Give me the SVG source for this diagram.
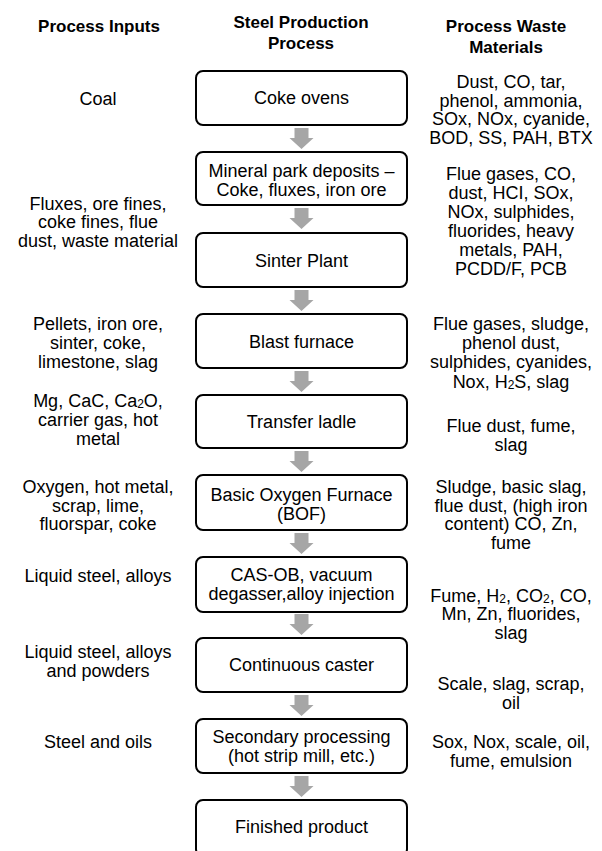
<svg xmlns="http://www.w3.org/2000/svg" width="602" height="851" viewBox="0 0 602 851">
<style>
  .t{font-family:"Liberation Sans",Arial,sans-serif;font-size:18px;fill:#000;text-anchor:middle}
  .h{font-family:"Liberation Sans",Arial,sans-serif;font-size:17px;font-weight:bold;fill:#000;text-anchor:middle}
  .box{fill:#fff;stroke:#000;stroke-width:2}
  .arr{fill:#a6a6a6}
  .sub{font-size:12px}
</style>
<defs>
  <path id="arrow" d="M-7,0 H7 V10 H12 L0,21 L-12,10 H-7 Z"/>
</defs>
<rect width="602" height="851" fill="#fff"/>
<g id="headers">
  <text class="h" x="99" y="32">Process Inputs</text>
  <text class="h" x="301" y="28">Steel Production</text>
  <text class="h" x="301" y="49">Process</text>
  <text class="h" x="506" y="32">Process Waste</text>
  <text class="h" x="506" y="53">Materials</text>
</g>
<g id="connectors" class="arr">
  <use href="#arrow" x="301.5" y="128"/>
  <use href="#arrow" x="301.5" y="208"/>
  <use href="#arrow" x="301.5" y="290"/>
  <use href="#arrow" x="301.5" y="371"/>
  <use href="#arrow" x="301.5" y="451"/>
  <use href="#arrow" x="301.5" y="533"/>
  <use href="#arrow" x="301.5" y="614"/>
  <use href="#arrow" x="301.5" y="695"/>
  <use href="#arrow" x="301.5" y="776"/>
</g>
<g id="n1"><rect class="box" x="196" y="71" width="211" height="54" rx="7"/><text class="t" x="301.5" y="104">Coke ovens</text></g>
<g id="n2"><rect class="box" x="196" y="152" width="211" height="53" rx="7"/><text class="t" x="301.5" y="177">Mineral park deposits –</text><text class="t" x="301.5" y="196">Coke, fluxes, iron ore</text></g>
<g id="n3"><rect class="box" x="196" y="233" width="211" height="54" rx="7"/><text class="t" x="301.5" y="266.5">Sinter Plant</text></g>
<g id="n4"><rect class="box" x="196" y="314" width="211" height="54" rx="7"/><text class="t" x="301.5" y="347.5">Blast furnace</text></g>
<g id="n5"><rect class="box" x="196" y="395" width="211" height="53" rx="7"/><text class="t" x="301.5" y="428">Transfer ladle</text></g>
<g id="n6"><rect class="box" x="196" y="475" width="211" height="55" rx="7"/><text class="t" x="301.5" y="501">Basic Oxygen Furnace</text><text class="t" x="301.5" y="520">(BOF)</text></g>
<g id="n7"><rect class="box" x="196" y="557" width="211" height="55" rx="7"/><text class="t" x="301.5" y="581">CAS-OB, vacuum</text><text class="t" x="301.5" y="600">degasser,alloy injection</text></g>
<g id="n8"><rect class="box" x="196" y="638" width="211" height="54" rx="7"/><text class="t" x="301.5" y="671">Continuous caster</text></g>
<g id="n9"><rect class="box" x="196" y="719" width="211" height="54" rx="7"/><text class="t" x="301.5" y="743">Secondary processing</text><text class="t" x="301.5" y="762">(hot strip mill, etc.)</text></g>
<g id="n10"><rect class="box" x="196" y="800" width="211" height="56" rx="7"/><text class="t" x="301.5" y="833">Finished product</text></g>
<g id="inputs">
  <text class="t" x="98" y="104.5">Coal</text>
  <text class="t" x="98" y="209.5">Fluxes, ore fines,</text>
  <text class="t" x="98" y="228">coke fines, flue</text>
  <text class="t" x="98" y="246.5">dust, waste material</text>
  <text class="t" x="98" y="329.5">Pellets, iron ore,</text>
  <text class="t" x="98" y="348.5">sinter, coke,</text>
  <text class="t" x="98" y="367.5">limestone, slag</text>
  <text class="t" x="98" y="406.5">Mg, CaC, Ca<tspan class="sub" dy="1">2</tspan><tspan dy="-1">O,</tspan></text>
  <text class="t" x="98" y="425.5">carrier gas, hot</text>
  <text class="t" x="98" y="444.5">metal</text>
  <text class="t" x="98" y="493">Oxygen, hot metal,</text>
  <text class="t" x="98" y="511.5">scrap, lime,</text>
  <text class="t" x="98" y="530">fluorspar, coke</text>
  <text class="t" x="98" y="581.5">Liquid steel, alloys</text>
  <text class="t" x="98" y="658">Liquid steel, alloys</text>
  <text class="t" x="98" y="676.5">and powders</text>
  <text class="t" x="98" y="748">Steel and oils</text>
</g>
<g id="waste">
  <text class="t" x="511" y="88">Dust, CO, tar,</text>
  <text class="t" x="511" y="106.5">phenol, ammonia,</text>
  <text class="t" x="511" y="125">SOx, NOx, cyanide,</text>
  <text class="t" x="511" y="143.5">BOD, SS, PAH, BTX</text>
  <text class="t" x="511" y="179.5">Flue gases, CO,</text>
  <text class="t" x="511" y="199">dust, HCI, SOx,</text>
  <text class="t" x="511" y="218">NOx, sulphides,</text>
  <text class="t" x="511" y="237">fluorides, heavy</text>
  <text class="t" x="511" y="256">metals, PAH,</text>
  <text class="t" x="511" y="275">PCDD/F, PCB</text>
  <text class="t" x="511" y="329.5">Flue gases, sludge,</text>
  <text class="t" x="511" y="348.5">phenol dust,</text>
  <text class="t" x="511" y="368">sulphides, cyanides,</text>
  <text class="t" x="511" y="387.5">Nox, H<tspan class="sub" dy="1">2</tspan><tspan dy="-1">S, slag</tspan></text>
  <text class="t" x="511" y="431.5">Flue dust, fume,</text>
  <text class="t" x="511" y="450.5">slag</text>
  <text class="t" x="511" y="493">Sludge, basic slag,</text>
  <text class="t" x="511" y="511.5">flue dust, (high iron</text>
  <text class="t" x="511" y="530">content) CO, Zn,</text>
  <text class="t" x="511" y="548.5">fume</text>
  <text class="t" x="511" y="601.5">Fume, H<tspan class="sub" dy="1">2</tspan><tspan dy="-1">, CO</tspan><tspan class="sub" dy="1">2</tspan><tspan dy="-1">, CO,</tspan></text>
  <text class="t" x="511" y="620">Mn, Zn, fluorides,</text>
  <text class="t" x="511" y="639">slag</text>
  <text class="t" x="511" y="689.5">Scale, slag, scrap,</text>
  <text class="t" x="511" y="708.5">oil</text>
  <text class="t" x="511" y="748">Sox, Nox, scale, oil,</text>
  <text class="t" x="511" y="767">fume, emulsion</text>
</g>
</svg>
